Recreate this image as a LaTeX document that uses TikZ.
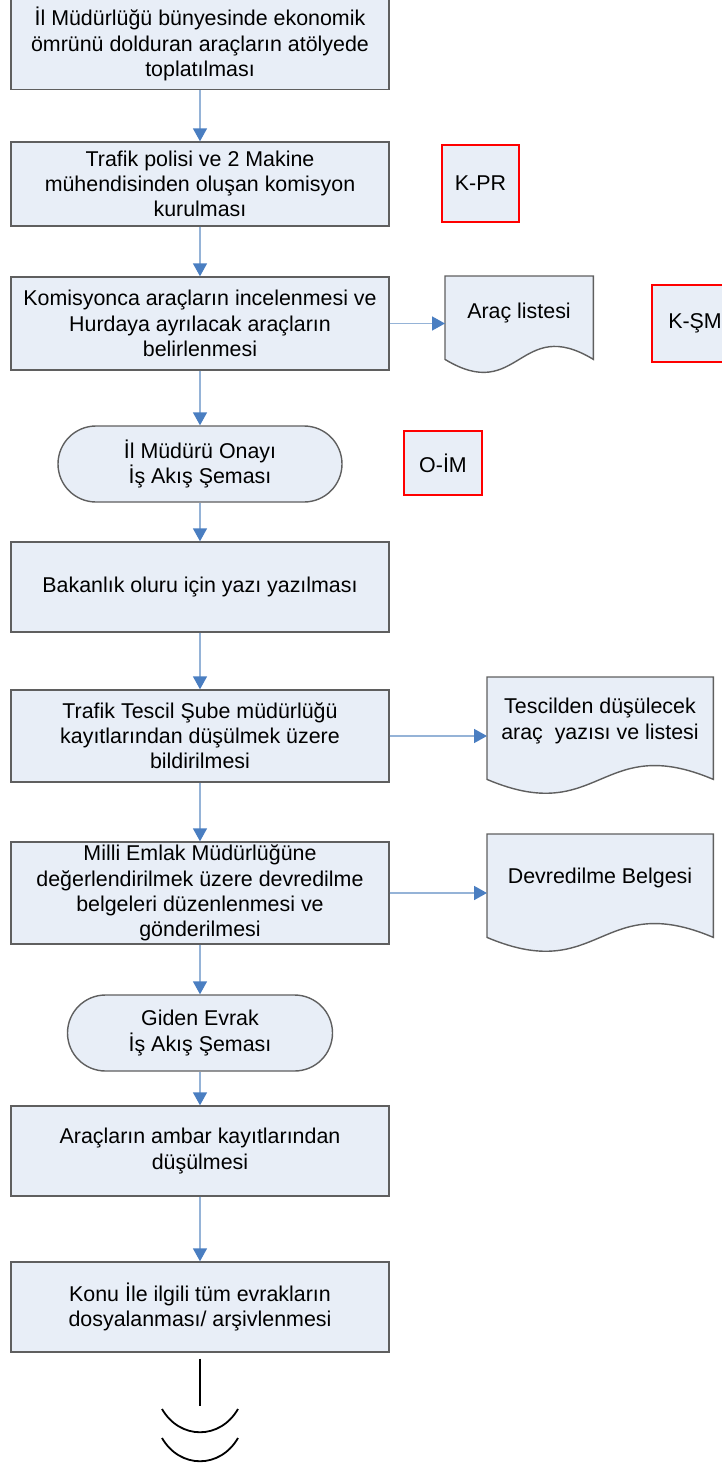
\documentclass[tikz,border=0pt]{standalone}
\usepackage{fontspec}
\setmainfont{Liberation Sans}
\usetikzlibrary{arrows.meta}
\definecolor{boxfill}{RGB}{232,238,247}
\definecolor{boxline}{RGB}{95,95,95}
\definecolor{flowline}{RGB}{149,179,215}
\definecolor{flowhead}{RGB}{74,126,193}
\definecolor{refred}{RGB}{255,0,0}
\begin{document}
\begin{tikzpicture}[x=1pt,y=-1pt,
  every node/.style={font=\fontsize{21.4}{25.2}\selectfont, align=center, inner sep=0pt},
  proc/.style={draw=boxline, fill=boxfill, line width=1.4pt, minimum width=378pt},
  term/.style={draw=boxline, fill=boxfill, line width=1.4pt, rounded corners=38pt, minimum height=76pt},
  codebox/.style={draw=refred, fill=boxfill, line width=2.6pt},
  docframe/.style={anchor=north west},
  docline/.style={draw=boxline, fill=boxfill, line width=1.4pt},
  flow/.style={draw=flowline, line width=1.6pt, -{Triangle[length=13pt,width=14pt,color=flowhead]}},
  endline/.style={draw=black, line width=1.8pt}
]
\useasboundingbox (0,0) rectangle (721,1464);

% process boxes
\node[proc, minimum height=91pt] (b1) at (200,44) {İl Müdürlüğü bünyesinde ekonomik\\ömrünü dolduran araçların atölyede\\toplatılması};
\node[proc, minimum height=84pt] (b2) at (200,184) {Trafik polisi ve 2 Makine\\mühendisinden oluşan komisyon\\kurulması};
\node[proc, minimum height=93pt] (b3) at (200,323.5) {Komisyonca araçların incelenmesi ve\\Hurdaya ayrılacak araçların\\belirlenmesi};
\node[term, minimum width=284pt] (t1) at (200,464) {İl Müdürü Onayı\\İş Akış Şeması};
\node[proc, minimum height=90pt] (b4) at (200,587) {Bakanlık oluru için yazı yazılması};
\node[proc, minimum height=92pt] (b5) at (200,736) {Trafik Tescil Şube müdürlüğü\\kayıtlarından düşülmek üzere\\bildirilmesi};
\node[proc, minimum height=102pt] (b6) at (200,893) {Milli Emlak Müdürlüğüne\\değerlendirilmek üzere devredilme\\belgeleri düzenlenmesi ve\\gönderilmesi};
\node[term, minimum width=265pt] (t2) at (200,1033) {Giden Evrak\\İş Akış Şeması};
\node[proc, minimum height=90pt] (b7) at (200,1151) {Araçların ambar kayıtlarından\\düşülmesi};
\node[proc, minimum height=90pt] (b8) at (200,1307) {Konu İle ilgili tüm evrakların\\dosyalanması/ arşivlenmesi};

% code boxes
\node[codebox, minimum width=77pt, minimum height=77pt] (k1) at (480.5,183.5) {K-PR};
\node[codebox, minimum width=86pt, minimum height=77pt] (k2) at (695,323.5) {K-ŞM};
\node[codebox, minimum width=78pt, minimum height=64pt] (k3) at (443,463) {O-İM};

% document shapes
\node[docframe, minimum width=148pt, minimum height=83pt] (d1) at (445,276) {};
\draw[docline] (d1.south west) -- (d1.north west) -- (d1.north east) -- (d1.south east)
  .. controls ([yshift=45pt]d1.south) and ([yshift=-45pt]d1.south) .. (d1.south west) -- cycle;
\node (d1t) at (519,313) {Araç listesi};

\node[docframe, minimum width=226pt, minimum height=102pt] (d2) at (487,677) {};
\draw[docline] (d2.south west) -- (d2.north west) -- (d2.north east) -- (d2.south east)
  .. controls ([yshift=48pt]d2.south) and ([yshift=-48pt]d2.south) .. (d2.south west) -- cycle;
\node (d2t) at (600,721) {Tescilden düşülecek\\araç\ \ yazısı ve listesi};

\node[docframe, minimum width=226pt, minimum height=103pt] (d3) at (487,834) {};
\draw[docline] (d3.south west) -- (d3.north west) -- (d3.north east) -- (d3.south east)
  .. controls ([yshift=48pt]d3.south) and ([yshift=-48pt]d3.south) .. (d3.south west) -- cycle;
\node (d3t) at (600,878) {Devredilme Belgesi};

% vertical flow
\draw[flow] (b1) -- (b2);
\draw[flow] (b2) -- (b3);
\draw[flow] (b3) -- (t1);
\draw[flow] (t1) -- (b4);
\draw[flow] (b4) -- (b5);
\draw[flow] (b5) -- (b6);
\draw[flow] (b6) -- (t2);
\draw[flow] (t2) -- (b7);
\draw[flow] (b7) -- (b8);

% side flows
\draw[flow] (b3.east) -- (b3.east -| d1.west);
\draw[flow] (b5.east) -- (b5.east -| d2.west);
\draw[flow] (b6.east) -- (b6.east -| d3.west);

% end symbol
\coordinate (e1) at (200,1406);
\draw[endline] ([yshift=-6pt]b8.south) -- (e1);
\draw[endline] (162,1409) .. controls (180,1440) and (220,1440) .. (238,1409);
\draw[endline] (162,1438) .. controls (180,1469) and (220,1469) .. (238,1438);
\end{tikzpicture}
\end{document}
